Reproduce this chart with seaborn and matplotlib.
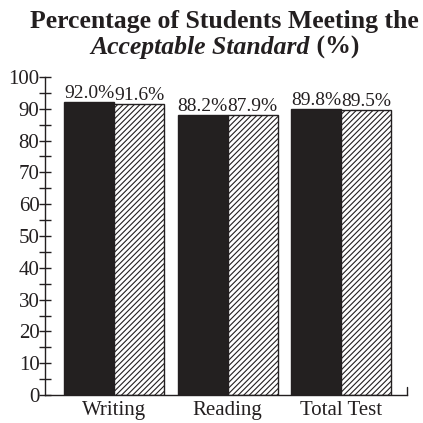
import matplotlib
matplotlib.use("Agg")
import matplotlib.pyplot as plt
from matplotlib.ticker import MultipleLocator
import seaborn as sns
import pandas as pd

categories = ["Writing", "Reading", "Total Test"]
series_names = ["A", "B"]
values_a = [92.0, 88.2, 89.8]
values_b = [91.6, 87.9, 89.5]
y_ticks = [0, 10, 20, 30, 40, 50, 60, 70, 80, 90, 100]

df = pd.DataFrame({
    "subject": categories * 2,
    "group": [series_names[0]] * 3 + [series_names[1]] * 3,
    "pct": values_a + values_b,
})

sns.set_theme(style="white")
plt.rcParams["font.family"] = ["Liberation Serif", "DejaVu Serif"]
plt.rcParams["hatch.linewidth"] = 0.8
plt.rcParams["hatch.color"] = "#231f20"

fig = plt.figure(figsize=(4.23, 4.23), dpi=100)
ax = fig.add_axes([45 / 423, 28 / 423, (407 - 45) / 423, (395 - 77) / 423])

sns.barplot(data=df, x="subject", y="pct", hue="group", order=categories,
            hue_order=series_names, palette=["#231f20", "white"],
            width=0.88, gap=0, edgecolor="#231f20", linewidth=1.0,
            errorbar=None, legend=False, ax=ax)

for bar in ax.patches[3:6]:
    bar.set_hatch("//////")

for container, vals in zip(ax.containers, [values_a, values_b]):
    ax.bar_label(container, labels=[f"{v:.1f}%" for v in vals], padding=0,
                 fontsize=14, color="#231f20")

ax.set_ylim(0, 100)
ax.set_xlim(-0.61, 2.58)
ax.set_yticks(y_ticks)
ax.yaxis.set_minor_locator(MultipleLocator(5))
ax.tick_params(axis="y", which="both", direction="inout", length=8, width=1,
               color="#231f20", labelsize=15, labelcolor="#231f20", pad=0, left=True)
ax.tick_params(axis="x", length=0, labelsize=15, labelcolor="#231f20", pad=4)
ax.set_xlabel("")
ax.set_ylabel("")
for side in ["top", "right"]:
    ax.spines[side].set_visible(False)
for side in ["left", "bottom"]:
    ax.spines[side].set_color("#231f20")
    ax.spines[side].set_linewidth(1.0)
ax.plot([1, 1], [0, 0.025], transform=ax.transAxes, color="#231f20", lw=1.0,
        clip_on=False)

# two-line title, second line mixes bold-italic and bold
fig.text(0.53, 1 - 28 / 423, "Percentage of Students Meeting the", ha="center",
         va="baseline", fontsize=18.5, fontweight="bold", color="#231f20")
renderer = fig.canvas.get_renderer()
t1 = fig.text(0, 1 - 54 / 423, "Acceptable Standard", ha="left", va="baseline",
              fontsize=18.5, fontweight="bold", fontstyle="italic", color="#231f20")
t2 = fig.text(0, 1 - 54 / 423, " (%)", ha="left", va="baseline",
              fontsize=18.5, fontweight="bold", color="#231f20")
w1 = t1.get_window_extent(renderer).width / fig.bbox.width
w2 = t2.get_window_extent(renderer).width / fig.bbox.width
x0 = 0.532 - (w1 + w2) / 2
t1.set_x(x0)
t2.set_x(x0 + w1)

fig.savefig("out.png", dpi=100, facecolor="white")
